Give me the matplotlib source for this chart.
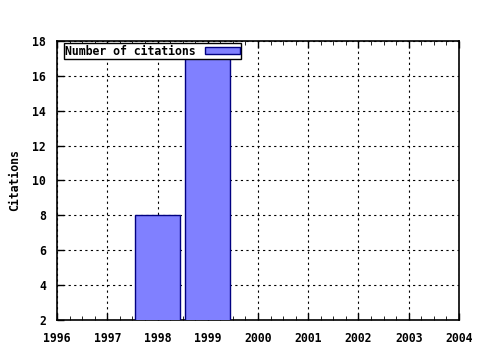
import matplotlib.pyplot as plt
from matplotlib.ticker import MultipleLocator

years = [1998, 1999]
citations = [8, 17]
xticks = [1996, 1997, 1998, 1999, 2000, 2001, 2002, 2003, 2004]
yticks = [2, 4, 6, 8, 10, 12, 14, 16, 18]

plt.rcParams['font.family'] = 'DejaVu Sans Mono'
plt.rcParams['font.weight'] = 'bold'

fig = plt.figure(figsize=(4.8, 3.5), dpi=100)
ax = fig.add_axes([0.119, 0.086, 0.837, 0.797])

ax.bar(years, citations, width=0.9, bottom=0, color="#8080ff",
       edgecolor="#000080", linewidth=1, label="Number of citations", zorder=3)

ax.set_xlim(1996, 2004)
ax.set_ylim(2, 18)
ax.set_xticks(xticks)
ax.set_yticks(yticks)
ax.xaxis.set_minor_locator(MultipleLocator(0.25))
ax.tick_params(axis="both", which="major", direction="in", length=5,
               labelsize=8.3, width=1, top=True)
ax.tick_params(axis="x", which="minor", direction="in", length=3, top=True)
ax.tick_params(axis="x", which="major", pad=9)
ax.tick_params(axis="y", which="major", pad=8)
ax.set_xticklabels([str(v) for v in xticks], fontweight="bold")
ax.set_yticklabels([str(v) for v in yticks], fontweight="bold")

ax.grid(True, which="major", color="black", linestyle=(0, (2, 3)), linewidth=0.8, zorder=1)
for s in ax.spines.values():
    s.set_linewidth(1.2)

ax.set_ylabel("Citations", fontsize=8.3, fontweight="bold", labelpad=8)

leg = ax.legend(loc="upper left", bbox_to_anchor=(0.016, 0.991), markerfirst=False,
                prop={"size": 8.3, "weight": "bold"},
                frameon=True, fancybox=False, borderpad=0.1, handlelength=3.1,
                handleheight=0.55, handletextpad=0.8, borderaxespad=0)
leg.get_frame().set_edgecolor("black")
leg.get_frame().set_linewidth(1)
leg.get_frame().set_alpha(1)

fig.savefig("out.png", dpi=100)
